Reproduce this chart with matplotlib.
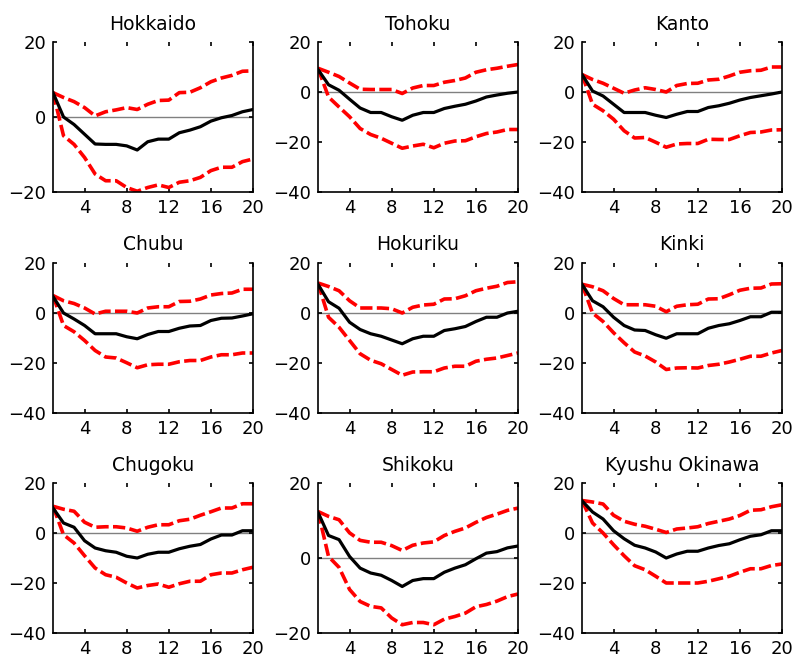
import numpy as np
import matplotlib
matplotlib.use('Agg')
from matplotlib import pyplot as plt

# horizonte (trimestres)
horizonte = list(range(1, 21))

regioes = ['Hokkaido', 'Tohoku', 'Kanto',
           'Chubu', 'Hokuriku', 'Kinki',
           'Chugoku', 'Shikoku', 'Kyushu Okinawa']

# resposta mediana (linha preta)
mediana_hokkaido = [6.5, 0.0, -2.0, -4.6, -7.2, -7.3, -7.3, -7.7, -8.8, -6.6,
                    -5.9, -5.9, -4.2, -3.5, -2.6, -1.1, -0.2, 0.4, 1.4, 2.0]
mediana_tohoku = [9.0, 2.9, 0.7, -2.9, -6.4, -8.2, -8.2, -9.9, -11.3, -9.3,
                  -8.2, -8.2, -6.6, -5.7, -4.9, -3.6, -2.0, -1.2, -0.5, 0.0]
mediana_kanto = [7.0, 0.4, -1.6, -4.9, -8.2, -8.2, -8.2, -9.3, -10.2, -8.9,
                 -7.8, -7.8, -6.2, -5.5, -4.5, -3.2, -2.2, -1.5, -0.8, 0.0]
mediana_chubu = [6.6, 0.0, -2.4, -5.0, -8.3, -8.3, -8.3, -9.5, -10.3, -8.6,
                 -7.4, -7.4, -6.1, -5.2, -5.0, -3.0, -2.1, -2.0, -1.2, -0.3]
mediana_hokuriku = [11.5, 4.5, 1.9, -3.7, -6.6, -8.3, -9.3, -10.8, -12.3, -10.3,
                    -9.3, -9.3, -7.0, -6.3, -5.4, -3.4, -1.7, -1.7, 0.0, 0.7]
mediana_kinki = [11.5, 4.9, 2.5, -1.7, -5.0, -6.8, -7.0, -8.7, -10.1, -8.3,
                 -8.3, -8.3, -6.1, -5.0, -4.3, -3.0, -1.5, -1.5, 0.3, 0.3]
mediana_chugoku = [10.0, 4.0, 2.3, -3.1, -6.0, -7.1, -7.7, -9.3, -10.0, -8.5,
                   -7.7, -7.7, -6.3, -5.3, -4.6, -2.4, -0.8, -0.8, 0.9, 0.9]
mediana_shikoku = [12.2, 6.0, 4.9, 0.4, -2.7, -4.0, -4.6, -6.0, -7.6, -6.0,
                   -5.5, -5.5, -3.8, -2.7, -1.8, -0.2, 1.3, 1.7, 2.7, 3.2]
mediana_kyushu = [12.9, 8.4, 5.6, 0.9, -2.3, -4.9, -6.0, -7.6, -10.0, -8.4,
                  -7.3, -7.3, -6.0, -5.0, -4.3, -2.7, -1.3, -0.7, 0.9, 0.9]

# banda superior (tracejado vermelho)
sup_hokkaido = [6.5, 5.2, 4.1, 2.5, 0.3, 1.4, 1.9, 2.5, 2.0, 3.4,
                4.4, 4.5, 6.5, 6.6, 7.8, 9.4, 10.4, 11.1, 12.2, 12.3]
sup_tohoku = [9.5, 7.9, 6.2, 3.6, 1.1, 1.0, 1.0, 1.0, -0.6, 1.6,
              2.6, 2.6, 3.9, 4.6, 5.6, 7.9, 8.9, 9.5, 10.3, 11.0]
sup_kanto = [7.0, 5.0, 3.5, 1.5, -0.5, 0.8, 1.7, 1.0, 0.0, 2.6,
             3.4, 3.5, 4.8, 5.1, 6.4, 7.9, 8.5, 8.7, 10.0, 10.0]
sup_chubu = [7.0, 4.9, 3.8, 2.0, -0.4, 0.7, 0.7, 0.7, 0.0, 2.0,
             2.5, 2.5, 4.6, 4.7, 5.6, 7.2, 7.8, 8.0, 9.5, 9.5]
sup_hokuriku = [12.0, 10.6, 8.9, 4.9, 2.0, 2.0, 2.0, 1.7, 0.0, 2.3,
                3.2, 3.5, 5.6, 5.7, 6.9, 8.9, 9.9, 10.7, 12.2, 12.5]
sup_kinki = [11.5, 10.5, 8.9, 5.8, 3.3, 3.3, 3.3, 2.7, 0.5, 2.7,
             3.3, 3.5, 5.6, 5.7, 7.3, 9.1, 9.9, 10.0, 11.6, 11.7]
sup_chugoku = [10.7, 9.5, 8.7, 4.3, 2.3, 2.5, 2.5, 2.0, 0.7, 2.3,
               3.3, 3.3, 4.9, 5.5, 7.1, 8.5, 10.0, 10.0, 11.7, 11.7]
sup_shikoku = [12.4, 11.1, 10.2, 6.7, 4.7, 4.2, 4.2, 3.3, 2.0, 3.4,
               4.0, 4.3, 6.0, 7.1, 8.0, 9.5, 10.8, 11.7, 12.7, 13.3]
sup_kyushu = [13.0, 12.4, 11.6, 7.1, 4.7, 3.5, 2.7, 1.5, 0.2, 1.6,
              2.0, 2.5, 3.8, 4.7, 5.6, 7.0, 9.1, 9.3, 10.5, 11.3]

# banda inferior (tracejado vermelho)
inf_hokkaido = [6.5, -5.0, -7.3, -10.8, -15.2, -17.0, -17.0, -18.8, -19.8, -18.8,
                -18.1, -18.8, -17.4, -17.0, -16.1, -14.3, -13.4, -13.4, -11.9, -11.2]
inf_tohoku = [9.5, -2.0, -6.0, -9.9, -14.6, -17.0, -18.5, -20.5, -22.5, -21.6,
              -20.9, -22.3, -20.5, -19.6, -19.5, -17.9, -16.6, -16.0, -15.0, -15.0]
inf_kanto = [7.0, -4.9, -7.5, -10.9, -15.5, -18.4, -18.2, -20.1, -22.1, -20.8,
             -20.6, -20.6, -18.9, -19.0, -19.0, -17.5, -16.2, -16.0, -15.2, -15.1]
inf_chubu = [7.0, -5.0, -7.5, -11.0, -15.0, -17.6, -18.0, -19.9, -21.9, -20.7,
             -20.5, -20.5, -19.5, -19.0, -19.0, -17.6, -16.7, -16.7, -16.0, -16.0]
inf_hokuriku = [12.0, -1.7, -5.7, -11.0, -16.3, -18.9, -20.3, -22.6, -24.9, -23.6,
                -23.5, -23.5, -22.0, -21.3, -21.3, -19.3, -18.5, -18.0, -17.0, -16.0]
inf_kinki = [11.5, 0.0, -3.4, -7.9, -11.9, -15.6, -17.2, -19.6, -22.6, -22.0,
             -21.9, -22.0, -21.0, -20.5, -19.6, -18.5, -17.3, -17.3, -16.0, -15.0]
inf_chugoku = [10.7, -0.7, -4.0, -9.1, -14.0, -16.7, -17.7, -20.0, -22.0, -21.0,
               -20.4, -21.7, -20.3, -19.3, -19.3, -16.7, -16.0, -16.0, -14.7, -13.7]
inf_shikoku = [12.4, 0.4, -2.5, -8.4, -11.6, -12.9, -13.3, -16.0, -17.8, -17.2,
               -17.2, -17.8, -16.3, -15.6, -14.7, -13.0, -12.4, -11.5, -10.3, -9.6]
inf_kyushu = [13.0, 4.0, 0.0, -4.7, -9.1, -13.1, -14.7, -17.3, -20.0, -20.0,
              -20.0, -20.0, -19.3, -18.3, -17.3, -15.7, -14.3, -14.3, -13.0, -12.4]

medianas = [mediana_hokkaido, mediana_tohoku, mediana_kanto,
            mediana_chubu, mediana_hokuriku, mediana_kinki,
            mediana_chugoku, mediana_shikoku, mediana_kyushu]
superiores = [sup_hokkaido, sup_tohoku, sup_kanto,
              sup_chubu, sup_hokuriku, sup_kinki,
              sup_chugoku, sup_shikoku, sup_kyushu]
inferiores = [inf_hokkaido, inf_tohoku, inf_kanto,
              inf_chubu, inf_hokuriku, inf_kinki,
              inf_chugoku, inf_shikoku, inf_kyushu]

# limite inferior do eixo y de cada painel
y_min = [-20, -40, -40, -40, -40, -40, -40, -20, -40]


def desenha():
    plt.rcParams['font.family'] = ['DejaVu Sans']
    fig = plt.figure(figsize=(7.95, 6.63), dpi=100)

    esquerdas = [53 / 795, 318 / 795, 582 / 795]
    baixos = [1 - 192 / 663, 1 - 413 / 663, 1 - 633 / 663]
    largura = 200 / 795
    altura = 150 / 663

    for i, nome in enumerate(regioes):
        lin, col = divmod(i, 3)
        ax = fig.add_axes([esquerdas[col], baixos[lin], largura, altura])

        ax.plot([1, 20], [0, 0], color='#808080', lw=1.0, zorder=1)
        ax.plot(horizonte, superiores[i], color='#ff0000', lw=2.6,
                dashes=(3.4, 1.2), zorder=2)
        ax.plot(horizonte, inferiores[i], color='#ff0000', lw=2.6,
                dashes=(3.4, 1.2), zorder=2)
        ax.plot(horizonte, medianas[i], color='black', lw=2.3, zorder=3)

        ax.set_xlim(1, 20)
        ax.set_ylim(y_min[i], 20)
        ax.set_xticks([4, 8, 12, 16, 20])
        ax.set_yticks(list(range(y_min[i], 21, 20)))
        ax.tick_params(direction='in', length=3, width=1.2, labelsize=13,
                       top=True, right=True, pad=5)
        ax.spines['top'].set_visible(False)
        for s in ['left', 'bottom', 'right']:
            ax.spines[s].set_linewidth(1.2)
        ax.set_title(nome, fontsize=13.5, pad=9)

    plt.savefig('out.png', dpi=100)


def main():
    desenha()


if __name__ == '__main__':
    main()
